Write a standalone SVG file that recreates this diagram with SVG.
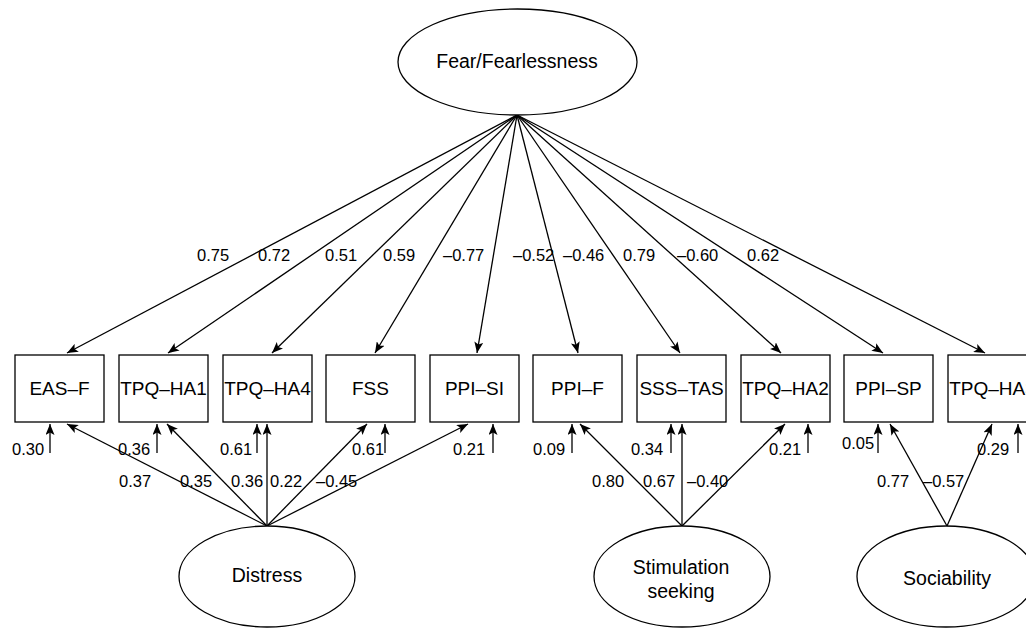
<svg xmlns="http://www.w3.org/2000/svg" width="1026" height="628" viewBox="0 0 1026 628">
<style>
.bg{fill:#fff}
.box{fill:#fff;stroke:#000;stroke-width:1.3}
.lat{fill:#fff;stroke:#000;stroke-width:1.3}
.edge{stroke:#000;stroke-width:1.3;fill:none;marker-end:url(#ah)}
text{font-family:"Liberation Sans",Arial,sans-serif;fill:#000}
.lbl{font-size:19px;text-anchor:middle}
.num{font-size:16.5px}
</style>
<defs>
<marker id="ah" markerUnits="userSpaceOnUse" markerWidth="11" markerHeight="9" viewBox="0 0 11 9" refX="11" refY="4.5" orient="auto">
<path d="M0,0 L11,4.5 L0,9 L2.5,4.5 z" fill="#000"/>
</marker>
</defs>
<rect class="bg" x="0" y="0" width="1026" height="628"/>
<g id="connectors">
<line class="edge" x1="517" y1="115" x2="67" y2="353"/>
<line class="edge" x1="517" y1="115" x2="168" y2="353"/>
<line class="edge" x1="517" y1="115" x2="272" y2="353"/>
<line class="edge" x1="517" y1="115" x2="375" y2="353"/>
<line class="edge" x1="517" y1="115" x2="477" y2="353"/>
<line class="edge" x1="517" y1="115" x2="578" y2="353"/>
<line class="edge" x1="517" y1="115" x2="680" y2="353"/>
<line class="edge" x1="517" y1="115" x2="781" y2="353"/>
<line class="edge" x1="517" y1="115" x2="883" y2="353"/>
<line class="edge" x1="517" y1="115" x2="985" y2="353"/>
<line class="edge" x1="267" y1="526" x2="67" y2="424"/>
<line class="edge" x1="267" y1="526" x2="167" y2="424"/>
<line class="edge" x1="267" y1="526" x2="267" y2="424"/>
<line class="edge" x1="267" y1="526" x2="367" y2="424"/>
<line class="edge" x1="267" y1="526" x2="468" y2="424"/>
<line class="edge" x1="682" y1="526" x2="580" y2="424"/>
<line class="edge" x1="682" y1="526" x2="682" y2="424"/>
<line class="edge" x1="682" y1="526" x2="785" y2="424"/>
<line class="edge" x1="947" y1="526" x2="890" y2="424"/>
<line class="edge" x1="947" y1="526" x2="992" y2="424"/>
<line class="edge" x1="50" y1="453" x2="50" y2="424"/>
<line class="edge" x1="157" y1="453" x2="157" y2="424"/>
<line class="edge" x1="257" y1="453" x2="257" y2="424"/>
<line class="edge" x1="385" y1="453" x2="385" y2="424"/>
<line class="edge" x1="493" y1="453" x2="493" y2="424"/>
<line class="edge" x1="572" y1="453" x2="572" y2="424"/>
<line class="edge" x1="671" y1="453" x2="671" y2="424"/>
<line class="edge" x1="808" y1="453" x2="808" y2="424"/>
<line class="edge" x1="878" y1="453" x2="878" y2="424"/>
<line class="edge" x1="1018" y1="453" x2="1018" y2="424"/>
</g>
<g id="connector-labels" class="num">
<text x="197" y="261">0.75</text>
<text x="258" y="261">0.72</text>
<text x="325" y="261">0.51</text>
<text x="383" y="261">0.59</text>
<text x="443" y="261">–0.77</text>
<text x="513" y="261">–0.52</text>
<text x="563" y="261">–0.46</text>
<text x="623" y="261">0.79</text>
<text x="677" y="261">–0.60</text>
<text x="747" y="261">0.62</text>
<text x="119" y="487">0.37</text>
<text x="180" y="487">0.35</text>
<text x="231" y="487">0.36</text>
<text x="270" y="487">0.22</text>
<text x="316" y="487">–0.45</text>
<text x="592" y="487">0.80</text>
<text x="643" y="487">0.67</text>
<text x="687" y="487">–0.40</text>
<text x="877" y="487">0.77</text>
<text x="923" y="487">–0.57</text>
<text x="12" y="455">0.30</text>
<text x="118" y="455">0.36</text>
<text x="220" y="455">0.61</text>
<text x="352" y="455">0.61</text>
<text x="453" y="455">0.21</text>
<text x="533" y="455">0.09</text>
<text x="631" y="455">0.34</text>
<text x="769" y="455">0.21</text>
<text x="842" y="449">0.05</text>
<text x="977" y="455">0.29</text>
</g>
<g id="fear"><ellipse class="lat" cx="517.5" cy="62" rx="119.5" ry="53"/><text class="lbl" x="517" y="68" style="font-size:19.5px">Fear/Fearlessness</text></g>
<g id="distress"><ellipse class="lat" cx="267" cy="576.5" rx="88" ry="50.5"/><text class="lbl" x="267" y="582" style="font-size:19.5px">Distress</text></g>
<g id="stimulation"><ellipse class="lat" cx="682" cy="576.5" rx="88" ry="50.5"/><text class="lbl" x="681" y="574" style="font-size:19.5px">Stimulation</text><text class="lbl" x="681" y="598" style="font-size:19.5px">seeking</text></g>
<g id="sociability"><ellipse class="lat" cx="946" cy="576.5" rx="89" ry="50.5"/><text class="lbl" x="947" y="585" style="font-size:19.5px">Sociability</text></g>
<g id="eas-f"><rect class="box" x="15" y="355" width="89" height="67"/><text class="lbl" x="59.5" y="395">EAS–F</text></g>
<g id="tpq-ha1"><rect class="box" x="119" y="355" width="89" height="67"/><text class="lbl" x="163.5" y="395">TPQ–HA1</text></g>
<g id="tpq-ha4"><rect class="box" x="223" y="355" width="89" height="67"/><text class="lbl" x="267.5" y="395">TPQ–HA4</text></g>
<g id="fss"><rect class="box" x="326" y="355" width="89" height="67"/><text class="lbl" x="370.5" y="395">FSS</text></g>
<g id="ppi-si"><rect class="box" x="430" y="355" width="89" height="67"/><text class="lbl" x="474.5" y="395">PPI–SI</text></g>
<g id="ppi-f"><rect class="box" x="533" y="355" width="89" height="67"/><text class="lbl" x="577.5" y="395">PPI–F</text></g>
<g id="sss-tas"><rect class="box" x="637" y="355" width="89" height="67"/><text class="lbl" x="681.5" y="395">SSS–TAS</text></g>
<g id="tpq-ha2"><rect class="box" x="741" y="355" width="89" height="67"/><text class="lbl" x="785.5" y="395">TPQ–HA2</text></g>
<g id="ppi-sp"><rect class="box" x="844" y="355" width="89" height="67"/><text class="lbl" x="888.5" y="395">PPI–SP</text></g>
<g id="tpq-ha3"><rect class="box" x="948" y="355" width="89" height="67"/><text class="lbl" x="992.5" y="395">TPQ–HA3</text></g>
</svg>
